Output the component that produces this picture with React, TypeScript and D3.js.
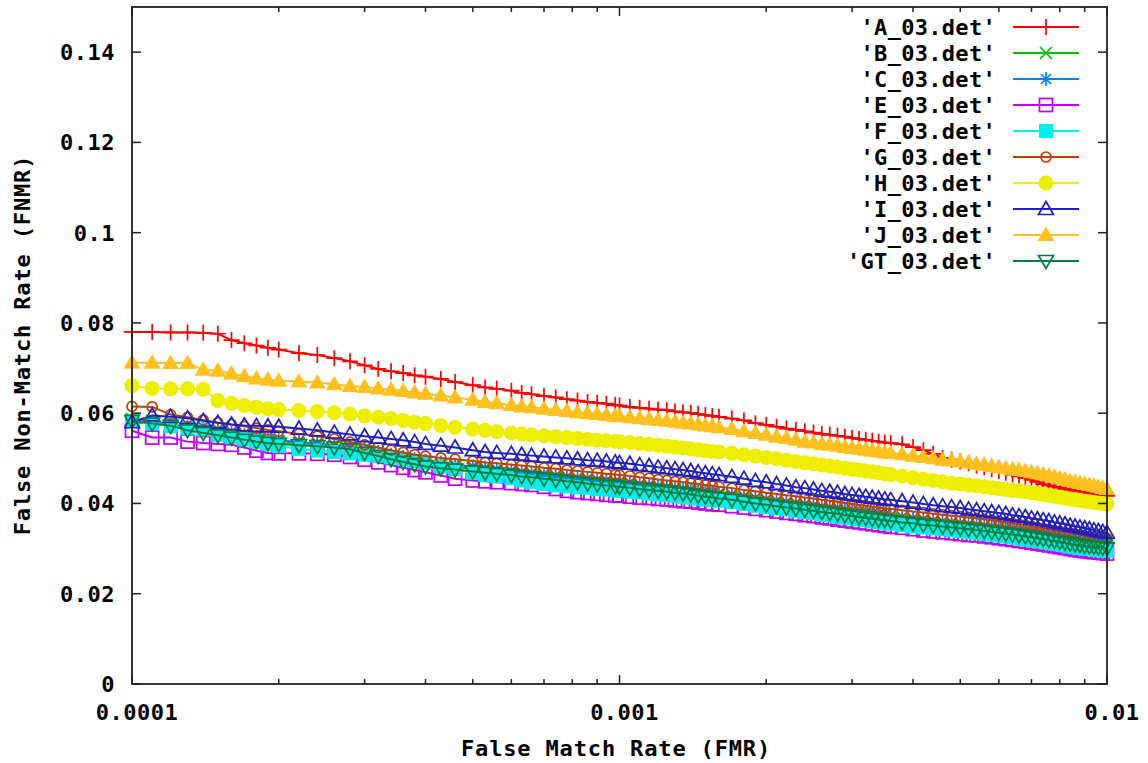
import React from "react";
import * as d3 from "d3";

const fmr = [
  0.0001, 0.00011, 0.00012, 0.00013, 0.00014, 0.00015, 0.00016, 0.00017, 0.00018, 0.00019,
  0.0002, 0.00022, 0.00024, 0.00026, 0.00028, 0.0003, 0.00032, 0.00034, 0.00036, 0.00038,
  0.0004, 0.00043, 0.00046, 0.0005, 0.00053, 0.00056, 0.0006, 0.00063, 0.00066, 0.0007,
  0.00074, 0.00078, 0.00082, 0.00086, 0.0009, 0.00094, 0.00098,
  0.001, 0.00105, 0.0011, 0.00115, 0.0012, 0.00125, 0.0013, 0.00135, 0.0014, 0.00145,
  0.0015, 0.00155, 0.0016, 0.0017, 0.0018, 0.0019,
  0.002, 0.0021, 0.0022, 0.0023, 0.0024, 0.0025, 0.0026, 0.0027, 0.0028, 0.0029,
  0.003, 0.0031, 0.0032, 0.0033, 0.0034, 0.0035, 0.0036, 0.0038,
  0.004, 0.0042, 0.0044, 0.0046, 0.0048, 0.005, 0.0052, 0.0054, 0.0056, 0.0058,
  0.006, 0.0062, 0.0064, 0.0066, 0.0068, 0.007, 0.0072, 0.0074, 0.0076, 0.0078,
  0.008, 0.0082, 0.0084, 0.0086, 0.0088, 0.009, 0.0092, 0.0094, 0.0096, 0.0098, 0.01,
];

const fnmrA = [
  0.0780, 0.0780, 0.0779, 0.0779, 0.0778, 0.0776, 0.0762, 0.0755, 0.0750, 0.0745,
  0.0741, 0.0733, 0.0729, 0.0722, 0.0715, 0.0706, 0.0698, 0.0693, 0.0689, 0.0684,
  0.0681, 0.0676, 0.0669, 0.0662, 0.0657, 0.0654, 0.0650, 0.0645, 0.0642, 0.0638,
  0.0635, 0.0631, 0.0628, 0.0625, 0.0623, 0.0621, 0.0618,
  0.0617, 0.0614, 0.0612, 0.0610, 0.0608, 0.0607, 0.0604, 0.0602, 0.0601, 0.0598,
  0.0596, 0.0594, 0.0592, 0.0588, 0.0584, 0.0578,
  0.0574, 0.0570, 0.0566, 0.0563, 0.0560, 0.0557, 0.0554, 0.0552, 0.0550, 0.0548,
  0.0545, 0.0543, 0.0541, 0.0539, 0.0537, 0.0535, 0.0534, 0.0531,
  0.0525, 0.0518, 0.0510, 0.0501, 0.0497, 0.0493, 0.0489, 0.0484, 0.0480, 0.0476,
  0.0472, 0.0468, 0.0464, 0.0460, 0.0456, 0.0452, 0.0448, 0.0443, 0.0440, 0.0437,
  0.0435, 0.0432, 0.0430, 0.0428, 0.0426, 0.0424, 0.0422, 0.0421, 0.0419, 0.0418, 0.0417,
];

const fnmrB = [
  0.0587, 0.0583, 0.0575, 0.0569, 0.0563, 0.0557, 0.0552, 0.0548, 0.0544, 0.0540,
  0.0537, 0.0533, 0.0530, 0.0527, 0.0523, 0.0517, 0.0511, 0.0505, 0.0499, 0.0494,
  0.0490, 0.0485, 0.0481, 0.0477, 0.0474, 0.0471, 0.0468, 0.0465, 0.0463, 0.0460,
  0.0457, 0.0455, 0.0452, 0.0450, 0.0448, 0.0446, 0.0444,
  0.0443, 0.0441, 0.0438, 0.0436, 0.0434, 0.0432, 0.0430, 0.0428, 0.0426, 0.0424,
  0.0422, 0.0420, 0.0418, 0.0414, 0.0410, 0.0406,
  0.0403, 0.0400, 0.0397, 0.0395, 0.0392, 0.0390, 0.0387, 0.0385, 0.0383, 0.0380,
  0.0378, 0.0376, 0.0374, 0.0372, 0.0370, 0.0368, 0.0367, 0.0364,
  0.0361, 0.0359, 0.0356, 0.0354, 0.0352, 0.0350, 0.0348, 0.0346, 0.0344, 0.0342,
  0.0340, 0.0338, 0.0336, 0.0334, 0.0332, 0.0330, 0.0328, 0.0326, 0.0324, 0.0322,
  0.0320, 0.0318, 0.0316, 0.0314, 0.0313, 0.0311, 0.0310, 0.0309, 0.0308, 0.0307, 0.0306,
];

const fnmrC = [
  0.0578, 0.0580, 0.0574, 0.0570, 0.0566, 0.0561, 0.0556, 0.0551, 0.0547, 0.0543,
  0.0540, 0.0536, 0.0533, 0.0529, 0.0525, 0.0520, 0.0514, 0.0508, 0.0503, 0.0498,
  0.0494, 0.0490, 0.0486, 0.0482, 0.0479, 0.0476, 0.0473, 0.0470, 0.0468, 0.0465,
  0.0462, 0.0460, 0.0457, 0.0455, 0.0453, 0.0451, 0.0449,
  0.0448, 0.0446, 0.0443, 0.0441, 0.0439, 0.0437, 0.0435, 0.0433, 0.0431, 0.0429,
  0.0427, 0.0425, 0.0423, 0.0420, 0.0416, 0.0412,
  0.0409, 0.0406, 0.0403, 0.0401, 0.0398, 0.0396, 0.0393, 0.0391, 0.0389, 0.0386,
  0.0384, 0.0382, 0.0380, 0.0378, 0.0376, 0.0374, 0.0373, 0.0370,
  0.0367, 0.0365, 0.0362, 0.0360, 0.0358, 0.0356, 0.0354, 0.0352, 0.0350, 0.0348,
  0.0346, 0.0344, 0.0342, 0.0340, 0.0338, 0.0336, 0.0334, 0.0332, 0.0330, 0.0328,
  0.0326, 0.0324, 0.0322, 0.0320, 0.0319, 0.0317, 0.0316, 0.0315, 0.0314, 0.0313, 0.0312,
];

const fnmrE = [
  0.0561, 0.0546, 0.0546, 0.0537, 0.0534, 0.0532, 0.0530, 0.0524, 0.0517, 0.0512,
  0.0511, 0.0511, 0.0510, 0.0508, 0.0503, 0.0497, 0.0491, 0.0485, 0.0479, 0.0474,
  0.0469, 0.0462, 0.0455, 0.0451, 0.0449, 0.0447, 0.0445, 0.0443, 0.0441, 0.0437,
  0.0432, 0.0428, 0.0425, 0.0423, 0.0421, 0.0419, 0.0418,
  0.0417, 0.0415, 0.0413, 0.0412, 0.0410, 0.0409, 0.0407, 0.0405, 0.0404, 0.0402,
  0.0400, 0.0398, 0.0397, 0.0394, 0.0391, 0.0388,
  0.0385, 0.0382, 0.0379, 0.0377, 0.0374, 0.0372, 0.0369, 0.0367, 0.0364, 0.0362,
  0.0360, 0.0358, 0.0356, 0.0354, 0.0352, 0.0350, 0.0348, 0.0346,
  0.0343, 0.0340, 0.0338, 0.0336, 0.0334, 0.0332, 0.0330, 0.0329, 0.0327, 0.0325,
  0.0323, 0.0321, 0.0319, 0.0317, 0.0315, 0.0313, 0.0311, 0.0309, 0.0307, 0.0305,
  0.0303, 0.0301, 0.0299, 0.0297, 0.0296, 0.0294, 0.0293, 0.0292, 0.0291, 0.0290, 0.0289,
];

const fnmrF = [
  0.0583, 0.0577, 0.0571, 0.0566, 0.0564, 0.0552, 0.0547, 0.0542, 0.0537, 0.0531,
  0.0527, 0.0521, 0.0517, 0.0514, 0.0511, 0.0508, 0.0505, 0.0502, 0.0498, 0.0494,
  0.0490, 0.0482, 0.0476, 0.0468, 0.0463, 0.0460, 0.0456, 0.0451, 0.0447, 0.0443,
  0.0440, 0.0438, 0.0436, 0.0434, 0.0432, 0.0431, 0.0429,
  0.0428, 0.0426, 0.0424, 0.0422, 0.0420, 0.0419, 0.0417, 0.0415, 0.0413, 0.0411,
  0.0409, 0.0407, 0.0406, 0.0403, 0.0399, 0.0395,
  0.0392, 0.0389, 0.0387, 0.0384, 0.0381, 0.0379, 0.0376, 0.0374, 0.0371, 0.0369,
  0.0367, 0.0365, 0.0363, 0.0361, 0.0359, 0.0357, 0.0355, 0.0352,
  0.0349, 0.0347, 0.0345, 0.0343, 0.0341, 0.0339, 0.0337, 0.0335, 0.0333, 0.0331,
  0.0329, 0.0327, 0.0325, 0.0323, 0.0321, 0.0319, 0.0317, 0.0315, 0.0313, 0.0311,
  0.0309, 0.0307, 0.0305, 0.0303, 0.0301, 0.0300, 0.0299, 0.0298, 0.0297, 0.0296, 0.0295,
];

const fnmrG = [
  0.0615, 0.0614, 0.0597, 0.0591, 0.0585, 0.0579, 0.0575, 0.0571, 0.0567, 0.0563,
  0.0560, 0.0554, 0.0549, 0.0543, 0.0536, 0.0530, 0.0524, 0.0518, 0.0513, 0.0508,
  0.0505, 0.0501, 0.0498, 0.0494, 0.0491, 0.0489, 0.0486, 0.0484, 0.0482, 0.0479,
  0.0477, 0.0474, 0.0472, 0.0470, 0.0468, 0.0466, 0.0464,
  0.0463, 0.0461, 0.0458, 0.0456, 0.0453, 0.0451, 0.0449, 0.0447, 0.0445, 0.0443,
  0.0441, 0.0439, 0.0437, 0.0434, 0.0430, 0.0427,
  0.0424, 0.0421, 0.0418, 0.0416, 0.0413, 0.0411, 0.0408, 0.0406, 0.0404, 0.0401,
  0.0399, 0.0397, 0.0395, 0.0393, 0.0391, 0.0389, 0.0388, 0.0385,
  0.0382, 0.0380, 0.0377, 0.0375, 0.0373, 0.0371, 0.0369, 0.0367, 0.0365, 0.0363,
  0.0361, 0.0358, 0.0356, 0.0354, 0.0352, 0.0349, 0.0347, 0.0345, 0.0343, 0.0340,
  0.0338, 0.0336, 0.0334, 0.0332, 0.0330, 0.0328, 0.0326, 0.0325, 0.0324, 0.0323, 0.0322,
];

const fnmrH = [
  0.0661, 0.0655, 0.0654, 0.0654, 0.0653, 0.0628, 0.0622, 0.0617, 0.0613, 0.0610,
  0.0608, 0.0606, 0.0604, 0.0601, 0.0598, 0.0594, 0.0591, 0.0588, 0.0584, 0.0580,
  0.0577, 0.0573, 0.0569, 0.0565, 0.0562, 0.0559, 0.0556, 0.0554, 0.0552, 0.0550,
  0.0548, 0.0546, 0.0544, 0.0542, 0.0540, 0.0539, 0.0538,
  0.0537, 0.0535, 0.0533, 0.0531, 0.0529, 0.0527, 0.0525, 0.0523, 0.0521, 0.0519,
  0.0517, 0.0515, 0.0514, 0.0511, 0.0508, 0.0505,
  0.0502, 0.0499, 0.0496, 0.0493, 0.0490, 0.0488, 0.0485, 0.0483, 0.0481, 0.0478,
  0.0476, 0.0474, 0.0472, 0.0470, 0.0468, 0.0466, 0.0464, 0.0461,
  0.0457, 0.0454, 0.0451, 0.0448, 0.0445, 0.0443, 0.0441, 0.0439, 0.0437, 0.0435,
  0.0433, 0.0431, 0.0429, 0.0428, 0.0426, 0.0424, 0.0422, 0.0420, 0.0418, 0.0416,
  0.0414, 0.0412, 0.0410, 0.0409, 0.0407, 0.0405, 0.0404, 0.0402, 0.0401, 0.0400, 0.0399,
];

const fnmrI = [
  0.0580, 0.0595, 0.0592, 0.0589, 0.0583, 0.0579, 0.0575, 0.0573, 0.0572, 0.0571,
  0.0570, 0.0566, 0.0562, 0.0557, 0.0553, 0.0549, 0.0546, 0.0543, 0.0540, 0.0536,
  0.0532, 0.0528, 0.0524, 0.0518, 0.0514, 0.0512, 0.0510, 0.0508, 0.0506, 0.0504,
  0.0502, 0.0500, 0.0498, 0.0496, 0.0495, 0.0493, 0.0491,
  0.0490, 0.0488, 0.0485, 0.0483, 0.0480, 0.0478, 0.0476, 0.0474, 0.0472, 0.0469,
  0.0467, 0.0465, 0.0463, 0.0459, 0.0455, 0.0450,
  0.0447, 0.0443, 0.0440, 0.0436, 0.0434, 0.0431, 0.0428, 0.0426, 0.0424, 0.0421,
  0.0419, 0.0417, 0.0415, 0.0413, 0.0411, 0.0409, 0.0408, 0.0405,
  0.0402, 0.0399, 0.0396, 0.0394, 0.0392, 0.0390, 0.0387, 0.0385, 0.0383, 0.0381,
  0.0379, 0.0377, 0.0374, 0.0372, 0.0370, 0.0367, 0.0365, 0.0363, 0.0361, 0.0358,
  0.0356, 0.0354, 0.0351, 0.0349, 0.0347, 0.0345, 0.0343, 0.0341, 0.0339, 0.0337, 0.0335,
];

const fnmrJ = [
  0.0712, 0.0712, 0.0711, 0.0711, 0.0696, 0.0694, 0.0688, 0.0682, 0.0677, 0.0674,
  0.0672, 0.0670, 0.0668, 0.0664, 0.0660, 0.0658, 0.0655, 0.0652, 0.0649, 0.0646,
  0.0643, 0.0639, 0.0635, 0.0630, 0.0625, 0.0622, 0.0618, 0.0615, 0.0613, 0.0610,
  0.0607, 0.0605, 0.0602, 0.0600, 0.0598, 0.0596, 0.0594,
  0.0593, 0.0591, 0.0589, 0.0587, 0.0585, 0.0583, 0.0581, 0.0579, 0.0577, 0.0575,
  0.0573, 0.0571, 0.0569, 0.0565, 0.0560, 0.0556,
  0.0552, 0.0548, 0.0545, 0.0541, 0.0537, 0.0535, 0.0532, 0.0530, 0.0528, 0.0525,
  0.0523, 0.0521, 0.0519, 0.0517, 0.0515, 0.0513, 0.0512, 0.0509,
  0.0506, 0.0503, 0.0500, 0.0497, 0.0495, 0.0493, 0.0491, 0.0488, 0.0486, 0.0483,
  0.0480, 0.0478, 0.0476, 0.0474, 0.0472, 0.0469, 0.0467, 0.0465, 0.0462, 0.0459,
  0.0456, 0.0453, 0.0450, 0.0448, 0.0446, 0.0443, 0.0441, 0.0439, 0.0437, 0.0434, 0.0432,
];

const fnmrGT = [
  0.0583, 0.0577, 0.0572, 0.0562, 0.0556, 0.0551, 0.0546, 0.0541, 0.0537, 0.0534,
  0.0532, 0.0529, 0.0527, 0.0524, 0.0520, 0.0512, 0.0505, 0.0498, 0.0492, 0.0487,
  0.0482, 0.0478, 0.0475, 0.0471, 0.0468, 0.0466, 0.0463, 0.0460, 0.0458, 0.0455,
  0.0452, 0.0449, 0.0447, 0.0444, 0.0442, 0.0440, 0.0438,
  0.0437, 0.0435, 0.0432, 0.0430, 0.0428, 0.0426, 0.0424, 0.0422, 0.0420, 0.0417,
  0.0415, 0.0413, 0.0411, 0.0408, 0.0404, 0.0400,
  0.0397, 0.0394, 0.0391, 0.0389, 0.0386, 0.0384, 0.0381, 0.0379, 0.0377, 0.0374,
  0.0372, 0.0370, 0.0368, 0.0366, 0.0364, 0.0363, 0.0361, 0.0358,
  0.0356, 0.0353, 0.0351, 0.0349, 0.0347, 0.0345, 0.0343, 0.0341, 0.0339, 0.0337,
  0.0335, 0.0333, 0.0331, 0.0329, 0.0327, 0.0325, 0.0323, 0.0321, 0.0319, 0.0317,
  0.0315, 0.0313, 0.0311, 0.0309, 0.0308, 0.0306, 0.0305, 0.0304, 0.0303, 0.0302, 0.0301,
];

const seriesNames = ["'A_03.det'", "'B_03.det'", "'C_03.det'", "'E_03.det'", "'F_03.det'", "'G_03.det'", "'H_03.det'", "'I_03.det'", "'J_03.det'", "'GT_03.det'"];
const seriesValues = [fnmrA, fnmrB, fnmrC, fnmrE, fnmrF, fnmrG, fnmrH, fnmrI, fnmrJ, fnmrGT];
const seriesColors = ["#ff0000", "#00c000", "#0080ff", "#c000ff", "#00eeee", "#c04000", "#eeee00", "#2020c0", "#ffc020", "#008040"];
const seriesMarkers = ["plus", "cross", "star", "openSquare", "filledSquare", "openCircle", "filledCircle", "openTri", "filledTri", "openInvTri"];

const xTicks = [0.0001, 0.001, 0.01];
const yTicks = [0, 0.02, 0.04, 0.06, 0.08, 0.1, 0.12, 0.14];

const xTitle = "False Match Rate (FMR)";
const yTitle = "False Non-Match Rate (FNMR)";

const W = 1148;
const H = 763;
const L = 132, R = 1107, T = 7, B = 684;
const FONT = "'DejaVu Sans Mono', monospace";

function Marker({ type, x, y, color }: { type: string; x: number; y: number; color: string }) {
  const sw = 1.7;
  switch (type) {
    case "plus":
      return <path d={`M${x - 8},${y}h16M${x},${y - 8}v16`} stroke={color} strokeWidth={sw} fill="none" />;
    case "cross":
      return <path d={`M${x - 6},${y - 6}l12,12M${x - 6},${y + 6}l12,-12`} stroke={color} strokeWidth={sw} fill="none" />;
    case "star":
      return <path d={`M${x - 7},${y}h14M${x},${y - 7}v14M${x - 5},${y - 5}l10,10M${x - 5},${y + 5}l10,-10`} stroke={color} strokeWidth={sw} fill="none" />;
    case "openSquare":
      return <rect x={x - 6.5} y={y - 6.5} width={13} height={13} stroke={color} strokeWidth={sw} fill="none" />;
    case "filledSquare":
      return <rect x={x - 7} y={y - 7} width={14} height={14} fill={color} />;
    case "openCircle":
      return <circle cx={x} cy={y} r={5} stroke={color} strokeWidth={sw} fill="none" />;
    case "filledCircle":
      return <circle cx={x} cy={y} r={7.5} fill={color} />;
    case "openTri":
      return <path d={`M${x},${y - 7.5}L${x + 7.5},${y + 5.5}L${x - 7.5},${y + 5.5}Z`} stroke={color} strokeWidth={sw} fill="none" />;
    case "filledTri":
      return <path d={`M${x},${y - 8.5}L${x + 8.5},${y + 6}L${x - 8.5},${y + 6}Z`} fill={color} />;
    case "openInvTri":
      return <path d={`M${x},${y + 7.5}L${x + 7.5},${y - 5.5}L${x - 7.5},${y - 5.5}Z`} stroke={color} strokeWidth={sw} fill="none" />;
    default:
      return null;
  }
}

export default function App() {
  const x = d3.scaleLog().domain([0.0001, 0.01]).range([L, R]);
  const y = d3.scaleLinear().domain([0, 0.15]).range([B, T]);
  const fmt = d3.format("~g");

  const minorX: number[] = [];
  [0.0001, 0.001].forEach((dec) => {
    for (let k = 2; k <= 9; k++) minorX.push(dec * k);
  });

  const line = d3
    .line<[number, number]>()
    .x((d) => x(d[0]))
    .y((d) => y(d[1]));

  const legendRowY = (i: number) => 27 + i * 26;
  const textProps = { fontFamily: FONT, fontWeight: "bold", fontSize: 22, fill: "#000" } as const;

  return (
    <svg width={W} height={H} style={{ position: "absolute", left: 0, top: 0, background: "#fff" }}>
      <rect x={0} y={0} width={W} height={H} fill="#fff" />
      <defs>
        <clipPath id="plotclip">
          <rect x={L - 8} y={T} width={R - L + 16} height={B - T} />
        </clipPath>
      </defs>

      <g clipPath="url(#plotclip)">
        {seriesValues.map((vals, si) => {
          const pts: [number, number][] = vals.map((v, i) => [fmr[i], v]);
          return (
            <g key={si}>
              <path d={line(pts) || ""} fill="none" stroke={seriesColors[si]} strokeWidth={2} />
              {pts.map((p, i) => (
                <Marker key={i} type={seriesMarkers[si]} x={x(p[0])} y={y(p[1])} color={seriesColors[si]} />
              ))}
            </g>
          );
        })}
      </g>

      <rect x={L} y={T} width={R - L} height={B - T} fill="none" stroke="#222" strokeWidth={1.8} />

      {yTicks.map((t) => (
        <g key={"y" + t}>
          <line x1={L} x2={L + 9} y1={y(t)} y2={y(t)} stroke="#222" strokeWidth={1.5} />
          <line x1={R} x2={R - 9} y1={y(t)} y2={y(t)} stroke="#222" strokeWidth={1.5} />
          <text x={115} y={y(t)} dy="0.36em" textAnchor="end" letterSpacing={0.5} {...textProps}>
            {fmt(t)}
          </text>
        </g>
      ))}

      {xTicks.map((t) => (
        <g key={"x" + t}>
          <line x1={x(t)} x2={x(t)} y1={B} y2={B - 9} stroke="#222" strokeWidth={1.5} />
          <line x1={x(t)} x2={x(t)} y1={T} y2={T + 9} stroke="#222" strokeWidth={1.5} />
          <text x={x(t) + 5} y={712} dy="0.36em" textAnchor="middle" letterSpacing={0.5} {...textProps}>
            {fmt(t)}
          </text>
        </g>
      ))}
      {minorX.map((t) => (
        <g key={"mx" + t}>
          <line x1={x(t)} x2={x(t)} y1={B} y2={B - 5} stroke="#222" strokeWidth={1.5} />
          <line x1={x(t)} x2={x(t)} y1={T} y2={T + 5} stroke="#222" strokeWidth={1.5} />
        </g>
      ))}

      <text x={616} y={748} dy="0.36em" textAnchor="middle" letterSpacing={0.85} {...textProps}>
        {xTitle}
      </text>
      <text transform={`translate(22,345) rotate(-90)`} dy="0.36em" textAnchor="middle" letterSpacing={0.85} {...textProps}>
        {yTitle}
      </text>

      {seriesNames.map((name, i) => (
        <g key={"lg" + i}>
          <text x={996} y={legendRowY(i)} dy="0.36em" textAnchor="end" letterSpacing={0.3} {...textProps}>
            {name}
          </text>
          <line x1={1013} x2={1079} y1={legendRowY(i)} y2={legendRowY(i)} stroke={seriesColors[i]} strokeWidth={2} />
          <Marker type={seriesMarkers[i]} x={1046} y={legendRowY(i)} color={seriesColors[i]} />
        </g>
      ))}
    </svg>
  );
}
